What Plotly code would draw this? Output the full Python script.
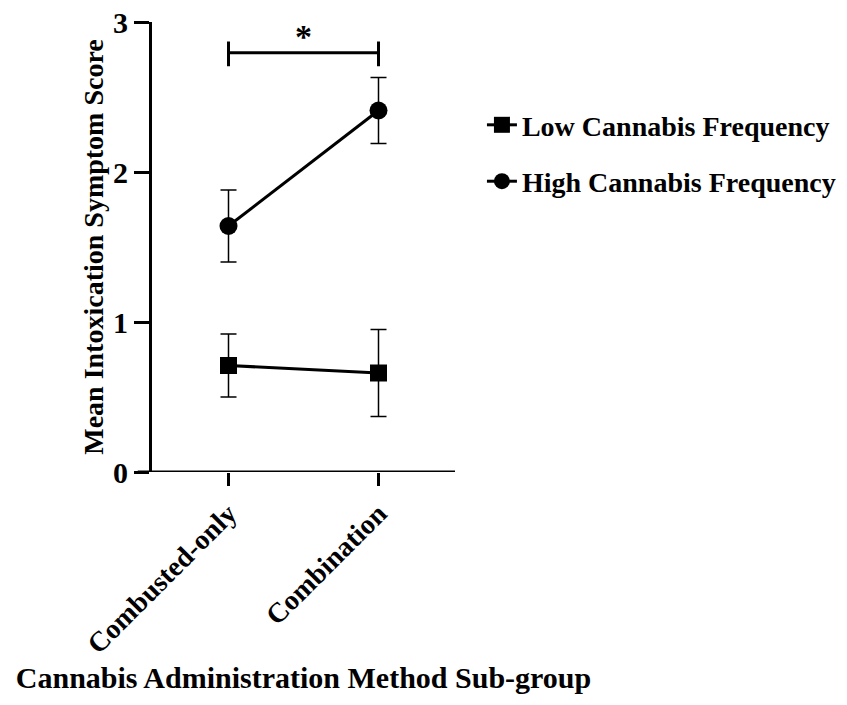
import plotly.graph_objects as go

# Sub-groups on the x axis
categories = ["Combusted-only", "Combination"]

# Mean intoxication symptom score and error (+/-) per frequency group
low_mean = [0.71, 0.66]
low_err = [0.21, 0.29]
high_mean = [1.64, 2.41]
high_err = [0.24, 0.22]

y_ticks = [0, 1, 2, 3]

# Significance bracket between the two high-frequency sub-groups
sig_y = 2.795
sig_tick_lo = 2.705
sig_tick_hi = 2.87
sig_label = "*"

FONT = "Liberation Serif"
BLACK = "#000000"

fig = go.Figure()

fig.add_trace(go.Scatter(
    x=categories, y=low_mean,
    mode="lines+markers",
    name="Low Cannabis Frequency",
    legendgroup="low",
    line=dict(color=BLACK, width=3),
    marker=dict(symbol="square", size=17, color=BLACK),
    error_y=dict(type="data", array=low_err, visible=True,
                 color=BLACK, thickness=1.5, width=8),
    cliponaxis=False,
))

fig.add_trace(go.Scatter(
    x=categories, y=high_mean,
    mode="lines+markers",
    name="High Cannabis Frequency",
    legendgroup="high",
    line=dict(color=BLACK, width=3),
    marker=dict(symbol="circle", size=18, color=BLACK),
    error_y=dict(type="data", array=high_err, visible=True,
                 color=BLACK, thickness=1.5, width=8),
    cliponaxis=False,
))

# x-axis baseline, extended slightly past the y axis
fig.add_shape(type="line", xref="paper", yref="y",
              x0=-0.047, x1=1.0, y0=0, y1=0,
              line=dict(color=BLACK, width=3))

# significance bracket
fig.add_shape(type="line", xref="x", yref="y", x0=0, x1=1, y0=sig_y, y1=sig_y,
              line=dict(color=BLACK, width=3))
for xi in (0, 1):
    fig.add_shape(type="line", xref="x", yref="y", x0=xi, x1=xi,
                  y0=sig_tick_lo, y1=sig_tick_hi,
                  line=dict(color=BLACK, width=3))
fig.add_annotation(x=0.5, y=sig_y, xref="x", yref="y", text=sig_label,
                   showarrow=False, yanchor="bottom", yshift=-4,
                   font=dict(family=FONT, size=34, color=BLACK, weight="bold"))

fig.update_layout(
    width=847, height=705,
    margin=dict(l=152, r=392, t=22, b=233),
    paper_bgcolor="white", plot_bgcolor="white",
    font=dict(family=FONT, color=BLACK, weight="bold"),
    showlegend=True,
    legend=dict(
        xref="container", yref="container",
        x=0.569, y=0.858, xanchor="left", yanchor="top",
        font=dict(family=FONT, size=28, color=BLACK, weight="bold"),
        tracegroupgap=17, traceorder="grouped",
        bgcolor="rgba(0,0,0,0)",
    ),
    xaxis=dict(
        type="category", range=[-0.51, 1.51], automargin=False,
        showline=False, showgrid=False, zeroline=False,
        ticks="outside", ticklen=13, tickwidth=3, tickcolor=BLACK,
        tickangle=-45,
        tickfont=dict(family=FONT, size=28, color=BLACK, weight="bold"),
        title=dict(text="Cannabis Administration Method Sub-group",
                   font=dict(family=FONT, size=30, color=BLACK, weight="bold"),
                   standoff=8),
    ),
    yaxis=dict(
        range=[0, 3], tickvals=y_ticks, automargin=False,
        showline=True, linecolor=BLACK, linewidth=3,
        showgrid=False, zeroline=False,
        ticks="outside", ticklen=15, tickwidth=3, tickcolor=BLACK,
        tickfont=dict(family=FONT, size=30, color=BLACK, weight="bold"),
        title=dict(text="Mean Intoxication Symptom Score",
                   font=dict(family=FONT, size=28, color=BLACK, weight="bold"),
                   standoff=2),
    ),
)

fig.write_html("out.html")
